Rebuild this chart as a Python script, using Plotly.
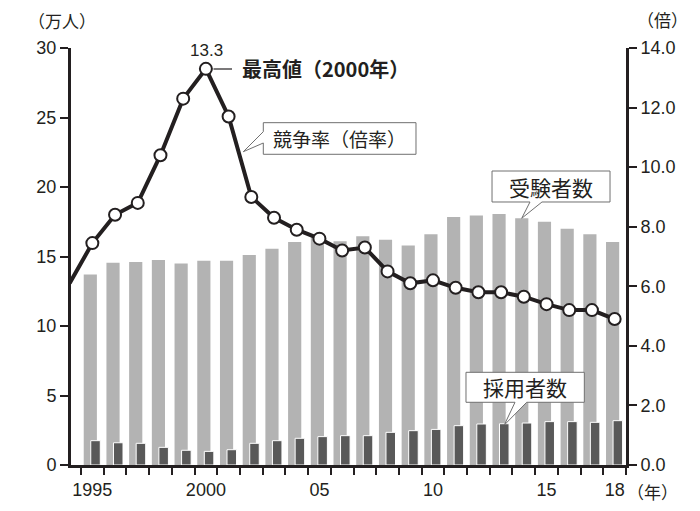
import plotly.graph_objects as go

# ---- data ----
years = list(range(1995, 2019))
applicants = [13.7, 14.55, 14.6, 14.75, 14.5, 14.7, 14.7, 15.1, 15.55, 16.05, 16.4, 16.1,
              16.45, 16.2, 15.8, 16.6, 17.85, 17.95, 18.05, 17.75, 17.5, 17.0, 16.6, 16.05]
hired = [1.75, 1.6, 1.56, 1.27, 1.06, 0.98, 1.1, 1.56, 1.75, 1.92, 2.04, 2.11,
         2.11, 2.35, 2.47, 2.56, 2.83, 2.95, 2.97, 3.02, 3.12, 3.12, 3.07, 3.19]
ratio_years = [1994] + years
ratio = [6.1, 7.45, 8.4, 8.8, 10.4, 12.3, 13.3, 11.7, 9.0, 8.3, 7.9, 7.6, 7.2,
         7.3, 6.5, 6.1, 6.2, 5.95, 5.8, 5.8, 5.65, 5.4, 5.2, 5.2, 4.9]
x_tick_vals = [1995, 2000, 2005, 2010, 2015, 2018]
x_tick_text = ["1995", "2000", "05", "10", "15", "18"]
left_ticks = [0, 5, 10, 15, 20, 25, 30]
right_ticks = [0, 2, 4, 6, 8, 10, 12, 14]

INK = "#231f20"
GRAY = "#b3b3b3"
DARK = "#595959"
FONT = "Liberation Sans, Arial, Noto Sans CJK JP, sans-serif"
JFONT = "Noto Sans CJK JP, sans-serif"

W, H = 700, 511
ML, MR, MT, MB = 71, 74, 48, 46
PW, PH = W - ML - MR, H - MT - MB


def px(x):
    return (x - ML) / PW


def py(y):
    return (H - MB - y) / PH


def callout(points):
    return "M " + " L ".join(f"{px(a):.4f},{py(b):.4f}" for a, b in points) + " Z"


fig = go.Figure()
fig.add_trace(go.Bar(x=years, y=applicants, name="受験者数", marker=dict(color=GRAY, line=dict(width=0)),
                     width=0.58, offset=-0.38, yaxis="y", opacity=1))
fig.add_trace(go.Bar(x=years, y=hired, name="採用者数", marker=dict(color=DARK, line=dict(width=1, color="white")),
                     width=0.42, offset=-0.07, yaxis="y", opacity=1))
# line (clipped at the left edge) and white circle markers drawn as a separate trace
fig.add_trace(go.Scatter(x=ratio_years, y=ratio, name="競争率", yaxis="y2", mode="lines",
                         line=dict(color=INK, width=4)))
fig.add_trace(go.Scatter(x=years, y=ratio[1:], name="競争率", yaxis="y2", mode="markers",
                         marker=dict(size=12, color="#ffffff", opacity=1,
                                     line=dict(color=INK, width=2))))

fig.update_layout(
    width=W, height=H,
    margin=dict(l=ML, r=MR, t=MT, b=MB),
    paper_bgcolor="white", plot_bgcolor="white",
    showlegend=False, barmode="overlay",
    font=dict(family=FONT, color=INK, size=18),
    xaxis=dict(range=[1994.06, 2018.5], tickvals=x_tick_vals, ticktext=x_tick_text,
               ticks="outside", ticklen=0, showgrid=False, zeroline=False,
               showline=True, linewidth=3, linecolor=INK, ticklabelstandoff=6,
               tickfont=dict(size=18, color=INK),
               minor=dict(tick0=1994.5, dtick=1, ticks="outside", ticklen=7, tickwidth=2,
                          tickcolor=INK, showgrid=False)),
    yaxis=dict(range=[0, 30], tickvals=left_ticks, ticks="outside", ticklen=8, tickwidth=2,
               tickcolor=INK, showgrid=False, zeroline=False, showline=True, linewidth=3,
               linecolor=INK, tickfont=dict(size=18, color=INK)),
    yaxis2=dict(range=[0, 14], tickvals=right_ticks, tickformat=".1f", overlaying="y", side="right",
                ticks="outside", ticklen=8, tickwidth=2, tickcolor=INK, showgrid=False,
                zeroline=False, showline=True, linewidth=3, linecolor=INK,
                tickfont=dict(size=18, color=INK)),
)

shapes = [
    dict(type="path", xref="paper", yref="paper", layer="above",
         path=callout([(263.3, 122.7), (416, 122.7), (416, 154.3), (263.3, 154.3),
                       (263.3, 143), (243.3, 151.7), (263.3, 131.7)]),
         line=dict(color="#707070", width=1), fillcolor="white"),
    dict(type="path", xref="paper", yref="paper", layer="above",
         path=callout([(492, 171), (610, 171), (610, 202), (542, 202), (521.7, 218.3),
                       (530, 202), (492, 202)]),
         line=dict(color="#707070", width=1), fillcolor="white"),
    dict(type="path", xref="paper", yref="paper", layer="above",
         path=callout([(466, 372.3), (584.3, 372.3), (584.3, 402.3), (526.7, 402.3),
                       (504.3, 425), (515, 402.3), (466, 402.3)]),
         line=dict(color="#707070", width=1), fillcolor="white"),
    dict(type="line", xref="paper", yref="paper", layer="above",
         x0=px(213.5), y0=py(69), x1=px(232), y1=py(69), line=dict(color=INK, width=1.2)),
]
fig.update_layout(shapes=shapes)


def ann(text, x, y, size, xanchor="center", family=JFONT):
    return dict(text=text, x=px(x), y=py(y), xref="paper", yref="paper", showarrow=False,
                xanchor=xanchor, yanchor="middle", font=dict(size=size, color=INK, family=family))


fig.update_layout(annotations=[
    ann("13.3", 206, 51, 17, family=FONT),
    ann("<b>最高値（2000年）</b>", 240, 68.5, 20, xanchor="left"),
    ann("競争率（倍率）", 339.5, 138.5, 19),
    ann("受験者数", 551, 186.5, 21),
    ann("採用者数", 525, 387.3, 21),
    ann("（万人）", 62, 21, 17),
    ann("（倍）", 662, 20, 17),
    ann("（年）", 652, 491, 17),
])

fig.write_html("out.html")
